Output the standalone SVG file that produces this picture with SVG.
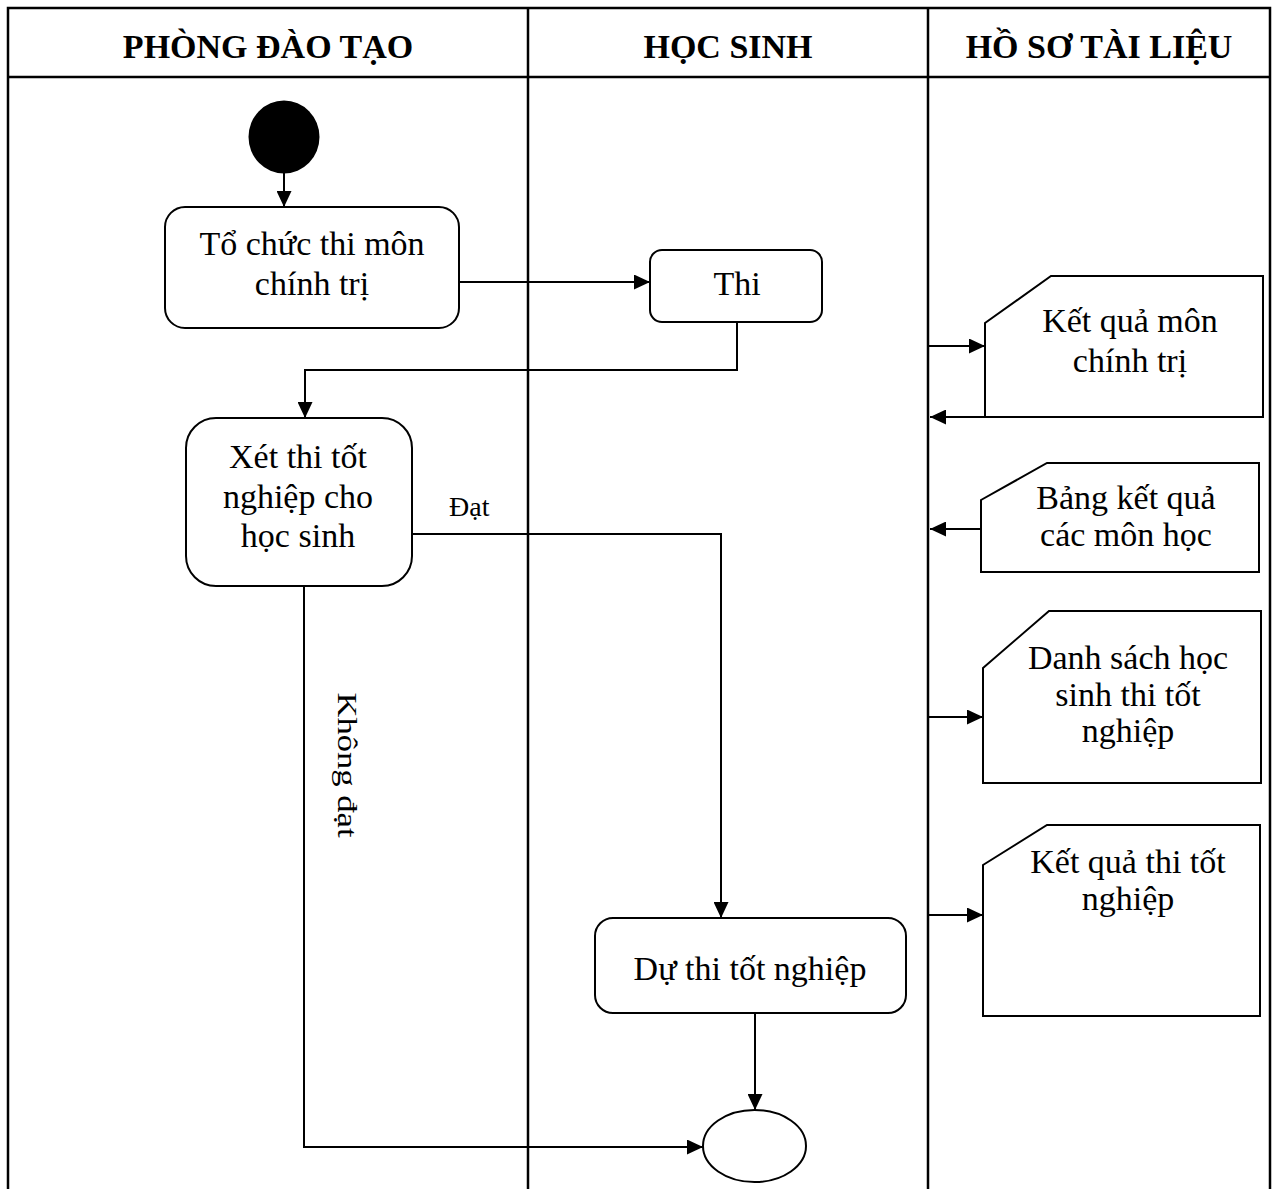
<svg xmlns="http://www.w3.org/2000/svg" width="1275" height="1189" viewBox="0 0 1275 1189">
  <style>
    .lane { fill: none; stroke: #000; stroke-width: 2.5; }
    .node { fill: #fff; stroke: #000; stroke-width: 2; }
    .conn { fill: none; stroke: #000; stroke-width: 2; }
    .hdr { font-family: "Liberation Serif", "Times New Roman", serif; font-size: 34px; font-weight: bold; text-anchor: middle; fill: #000; }
    .txt { font-family: "Liberation Serif", "Times New Roman", serif; font-size: 34px; text-anchor: middle; fill: #000; }
    .lbl { font-family: "Liberation Serif", "Times New Roman", serif; font-size: 28px; fill: #000; }
  </style>
  <defs>
    <marker id="arrow" markerUnits="userSpaceOnUse" markerWidth="16" markerHeight="15" refX="16" refY="7.5" orient="auto">
      <path d="M0,0 L16,7.5 L0,15 Z" fill="#000"/>
    </marker>
  </defs>
  <rect width="1275" height="1189" fill="#fff"/>

  <g id="swimlanes">
    <path class="lane" d="M8,1189 V8 H1270 V1189"/>
    <line class="lane" x1="8" y1="77" x2="1270" y2="77"/>
    <line class="lane" x1="528" y1="8" x2="528" y2="1189"/>
    <line class="lane" x1="928" y1="8" x2="928" y2="1189"/>
    <text class="hdr" x="268" y="58">PHÒNG ĐÀO TẠO</text>
    <text class="hdr" x="728" y="58">HỌC SINH</text>
    <text class="hdr" x="1099" y="58">HỒ SƠ TÀI LIỆU</text>
  </g>

  <g id="connectors">
    <line class="conn" x1="284" y1="173" x2="284" y2="207" marker-end="url(#arrow)"/>
    <line class="conn" x1="459" y1="282" x2="650" y2="282" marker-end="url(#arrow)"/>
    <path class="conn" d="M737,322 V370 H305 V418" marker-end="url(#arrow)"/>
    <path class="conn" d="M411,534 H721 V918" marker-end="url(#arrow)"/>
    <path class="conn" d="M304,586 V1147 H703" marker-end="url(#arrow)"/>
    <line class="conn" x1="755" y1="1013" x2="755" y2="1110" marker-end="url(#arrow)"/>
    <line class="conn" x1="929" y1="346" x2="985" y2="346" marker-end="url(#arrow)"/>
    <line class="conn" x1="985" y1="417" x2="930" y2="417" marker-end="url(#arrow)"/>
    <line class="conn" x1="981" y1="529" x2="930" y2="529" marker-end="url(#arrow)"/>
    <line class="conn" x1="929" y1="717" x2="983" y2="717" marker-end="url(#arrow)"/>
    <line class="conn" x1="929" y1="915" x2="983" y2="915" marker-end="url(#arrow)"/>
    <text class="lbl" x="449" y="516">Đạt</text>
    <text class="lbl" transform="translate(338,765) rotate(90)" x="0" y="0" text-anchor="middle" font-size="33" textLength="145" lengthAdjust="spacingAndGlyphs">Không đạt</text>
  </g>

  <g id="start">
    <ellipse cx="284" cy="137" rx="35.5" ry="36.5" fill="#000"/>
  </g>

  <g id="to-chuc-thi">
    <rect class="node" x="165" y="207" width="294" height="121" rx="20"/>
    <text class="txt" x="312" y="255">Tổ chức thi môn</text>
    <text class="txt" x="312" y="295">chính trị</text>
  </g>

  <g id="thi">
    <rect class="node" x="650" y="250" width="172" height="72" rx="12"/>
    <text class="txt" x="737" y="295">Thi</text>
  </g>

  <g id="xet-thi">
    <rect class="node" x="186" y="418" width="226" height="168" rx="30"/>
    <text class="txt" x="298" y="468">Xét thi tốt</text>
    <text class="txt" x="298" y="508">nghiệp cho</text>
    <text class="txt" x="298" y="547">học sinh</text>
  </g>

  <g id="du-thi">
    <rect class="node" x="595" y="918" width="311" height="95" rx="18"/>
    <text class="txt" x="750" y="980">Dự thi tốt nghiệp</text>
  </g>

  <g id="end">
    <ellipse class="node" cx="754.5" cy="1146" rx="51.5" ry="36"/>
  </g>

  <g id="doc-ket-qua-chinh-tri">
    <polygon class="node" points="985,323 1051,276 1263,276 1263,417 985,417"/>
    <text class="txt" x="1130" y="332">Kết quả môn</text>
    <text class="txt" x="1130" y="372">chính trị</text>
  </g>

  <g id="doc-bang-ket-qua">
    <polygon class="node" points="981,500 1047,463 1259,463 1259,572 981,572"/>
    <text class="txt" x="1126" y="509">Bảng kết quả</text>
    <text class="txt" x="1126" y="546">các môn học</text>
  </g>

  <g id="doc-danh-sach">
    <polygon class="node" points="983,668 1049,611 1261,611 1261,783 983,783"/>
    <text class="txt" x="1128" y="669">Danh sách học</text>
    <text class="txt" x="1128" y="706">sinh thi tốt</text>
    <text class="txt" x="1128" y="742">nghiệp</text>
  </g>

  <g id="doc-ket-qua-tot-nghiep">
    <polygon class="node" points="983,865 1047,825 1260,825 1260,1016 983,1016"/>
    <text class="txt" x="1128" y="873">Kết quả thi tốt</text>
    <text class="txt" x="1128" y="910">nghiệp</text>
  </g>
</svg>
